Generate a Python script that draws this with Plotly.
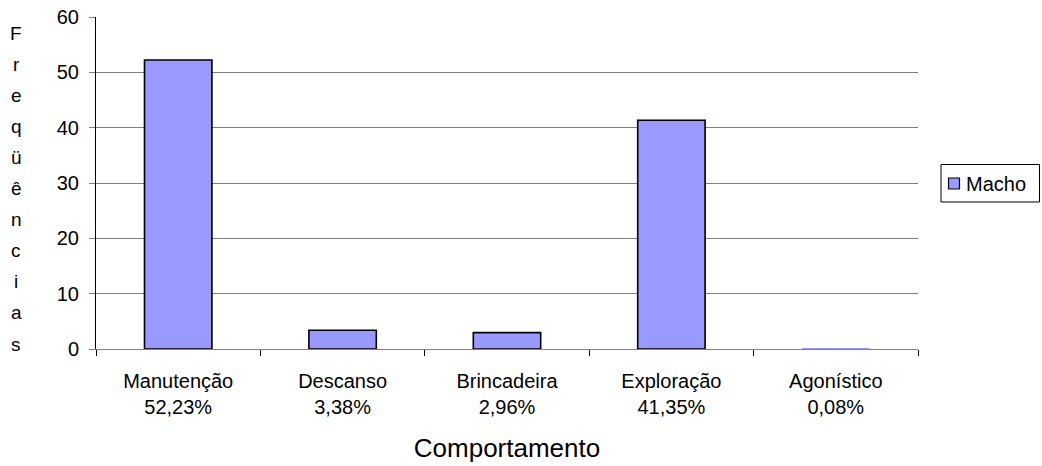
import plotly.graph_objects as go

categories = ["Manutenção", "Descanso", "Brincadeira", "Exploração", "Agonístico"]
percent_labels = ["52,23%", "3,38%", "2,96%", "41,35%", "0,08%"]
values = [52.23, 3.38, 2.96, 41.35, 0.08]
series_name = "Macho"
y_title = "Freqüências"
x_title = "Comportamento"
y_ticks = [0, 10, 20, 30, 40, 50, 60]

W, H = 1042, 466
L, R, T, B = 96, 124, 17, 117
PW, PH = W - L - R, H - T - B

FONT = "Liberation Sans, Arial, Helvetica, sans-serif"
BAR_COLOR = "#9999FF"


def px_x(x):
    return (x - L) / PW


def px_y(y):
    return (H - B - y) / PH


tick_text = [f"{c}<br>{p}" for c, p in zip(categories, percent_labels)]
# bars thinner than a pixel show no outline in the original
outline_w = [1.6 if v * PH / 60 >= 1 else 0 for v in values]

fig = go.Figure()
fig.add_trace(go.Bar(
    x=categories, y=values, name=series_name,
    marker=dict(color=BAR_COLOR, line=dict(color="#000000", width=outline_w)),
    showlegend=False,
))

fig.update_layout(
    width=W, height=H,
    margin=dict(l=L, r=R, t=T, b=B, pad=0, autoexpand=False),
    paper_bgcolor="white", plot_bgcolor="white",
    font=dict(family=FONT, size=20, color="#000000"),
    bargap=0.59,
    showlegend=False,
    xaxis=dict(
        tickmode="array", tickvals=categories, ticktext=tick_text,
        tickson="boundaries", ticks="outside", ticklen=6, tickcolor="#000000",
        showline=True, linecolor="#808080", linewidth=1,
        showgrid=False, zeroline=False, automargin=False,
        tickfont=dict(family=FONT, size=20),
        ticklabelstandoff=14,
        title=dict(text=x_title, font=dict(family=FONT, size=26), standoff=21),
    ),
    yaxis=dict(
        range=[0, 60], tickmode="array", tickvals=y_ticks,
        ticks="outside", ticklen=6, tickcolor="#808080",
        showline=True, linecolor="#000000", linewidth=1,
        showgrid=True, gridcolor="#808080", gridwidth=1,
        zeroline=False, automargin=False,
        tickfont=dict(family=FONT, size=20),
        ticklabelstandoff=6,
    ),
)

# vertical stacked y-axis title letters
letters = list(y_title)
top_c, bot_c = 33, 344
step = (bot_c - top_c) / (len(letters) - 1)
for i, ch in enumerate(letters):
    ypix = top_c + i * step
    fig.add_annotation(
        text=ch, xref="paper", yref="paper",
        x=px_x(16), y=px_y(ypix),
        xanchor="center", yanchor="middle", showarrow=False,
        font=dict(family=FONT, size=19, color="#000000"),
    )

# legend box (Excel-style compact legend)
fig.add_shape(type="rect", xref="paper", yref="paper",
              x0=px_x(941), x1=px_x(1039.5), y0=px_y(202), y1=px_y(164.5),
              line=dict(color="#000000", width=1), fillcolor="white")
fig.add_shape(type="rect", xref="paper", yref="paper",
              x0=px_x(948.5), x1=px_x(959.5), y0=px_y(189), y1=px_y(178),
              line=dict(color="#000000", width=1.2), fillcolor=BAR_COLOR)
fig.add_annotation(text=series_name, xref="paper", yref="paper",
                   x=px_x(964), y=px_y(183.5), xanchor="left", yanchor="middle",
                   showarrow=False, font=dict(family=FONT, size=20, color="#000000"))

fig.write_html("out.html", config={"displayModeBar": False},
               post_script="document.body.style.margin='0';")
